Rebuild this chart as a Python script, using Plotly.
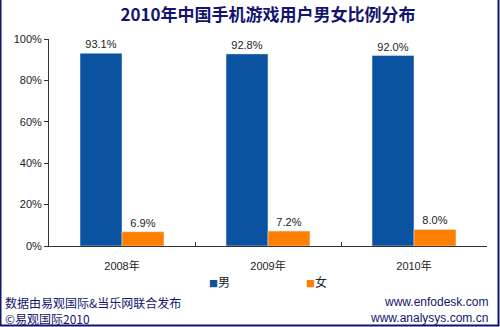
import plotly.graph_objects as go

categories = ["2008年", "2009年", "2010年"]
male = [93.1, 92.8, 92.0]
female = [6.9, 7.2, 8.0]
yticks = [0, 20, 40, 60, 80, 100]
ytick_labels = ["0%", "20%", "40%", "60%", "80%", "100%"]

BLUE = "#0b52a0"
ORANGE = "#ff8000"
NAVY = "#14146e"
FONT = "Liberation Sans, Arial, Noto Sans CJK SC, sans-serif"

fig = go.Figure()
fig.add_bar(x=categories, y=male, name="男", marker_color=BLUE,
            text=[f"{v:.1f}%" for v in male], textposition="outside",
            textfont=dict(size=11, color="#222222"), cliponaxis=False)
fig.add_bar(x=categories, y=female, name="女", marker_color=ORANGE,
            text=[f"{v:.1f}%" for v in female], textposition="outside",
            textfont=dict(size=11, color="#222222"), cliponaxis=False)

fig.update_layout(
    width=500, height=327,
    margin=dict(l=49, r=13, t=39, b=81),
    paper_bgcolor="white", plot_bgcolor="white",
    barmode="group", bargap=0.425, bargroupgap=0,
    showlegend=False,
    font=dict(family=FONT, size=11, color="#222222"),
    title=dict(text="<b>2010年中国手机游戏用户男女比例分布</b>", x=0.5, xanchor="center",
               y=0.953, yanchor="middle", xref="paper",
               font=dict(size=17, color=NAVY, family="Noto Sans CJK SC, sans-serif")),
    xaxis=dict(type="category", showline=True, linecolor="#333333", linewidth=1,
               ticks="inside", ticklen=4, tickcolor="#333333", tickson="boundaries",
               showgrid=False, ticklabelstandoff=10,
               tickfont=dict(size=11, color="#222222")),
    yaxis=dict(range=[0, 100], tickvals=yticks, ticktext=ytick_labels,
               showline=True, linecolor="#333333", linewidth=1,
               ticks="outside", ticklen=4, tickcolor="#333333",
               showgrid=False, zeroline=False,
               tickfont=dict(size=11, color="#222222")),
)


def px(xp, yp):
    return (xp - 49) / (500 - 49 - 13), (327 - 81 - yp) / (327 - 39 - 81)


legend_font = dict(size=12, color="#222222", family="Noto Sans CJK SC, sans-serif")
lx, ly = px(219, 281)
fig.add_annotation(text=f"<span style='color:{BLUE}; font-size:9px'>■</span>男", x=lx, y=ly,
                   xref="paper", yref="paper", showarrow=False, yanchor="middle",
                   font=legend_font)
lx, ly = px(316, 281)
fig.add_annotation(text=f"<span style='color:{ORANGE}; font-size:9px'>■</span>女", x=lx, y=ly,
                   xref="paper", yref="paper", showarrow=False, yanchor="middle",
                   font=legend_font)

footer_font = dict(size=12, color=NAVY, family="Noto Sans CJK SC, sans-serif")
url_font = dict(size=12, color=NAVY, family="Liberation Sans, Arial, sans-serif")
x0, y0 = px(3, 302)
fig.add_annotation(text="数据由易观国际&当乐网联合发布", x=x0, y=y0, xref="paper", yref="paper",
                   showarrow=False, xanchor="left", yanchor="middle", font=footer_font)
x0, y0 = px(3, 318)
fig.add_annotation(text="©易观国际2010", x=x0, y=y0, xref="paper", yref="paper",
                   showarrow=False, xanchor="left", yanchor="middle", font=footer_font)
x0, y0 = px(490, 302)
fig.add_annotation(text="www.enfodesk.com", x=x0, y=y0, xref="paper", yref="paper",
                   showarrow=False, xanchor="right", yanchor="middle", font=url_font)
x0, y0 = px(490, 318)
fig.add_annotation(text="www.analysys.com.cn", x=x0, y=y0, xref="paper", yref="paper",
                   showarrow=False, xanchor="right", yanchor="middle", font=url_font)

# outer frame
fig.add_shape(type="rect", xref="paper", yref="paper",
              x0=px(0.5, 0)[0], x1=px(498.5, 0)[0], y0=px(0, 325.5)[1], y1=px(0, -2)[1],
              line=dict(color=NAVY, width=2), layer="above")

fig.write_html("out.html")
